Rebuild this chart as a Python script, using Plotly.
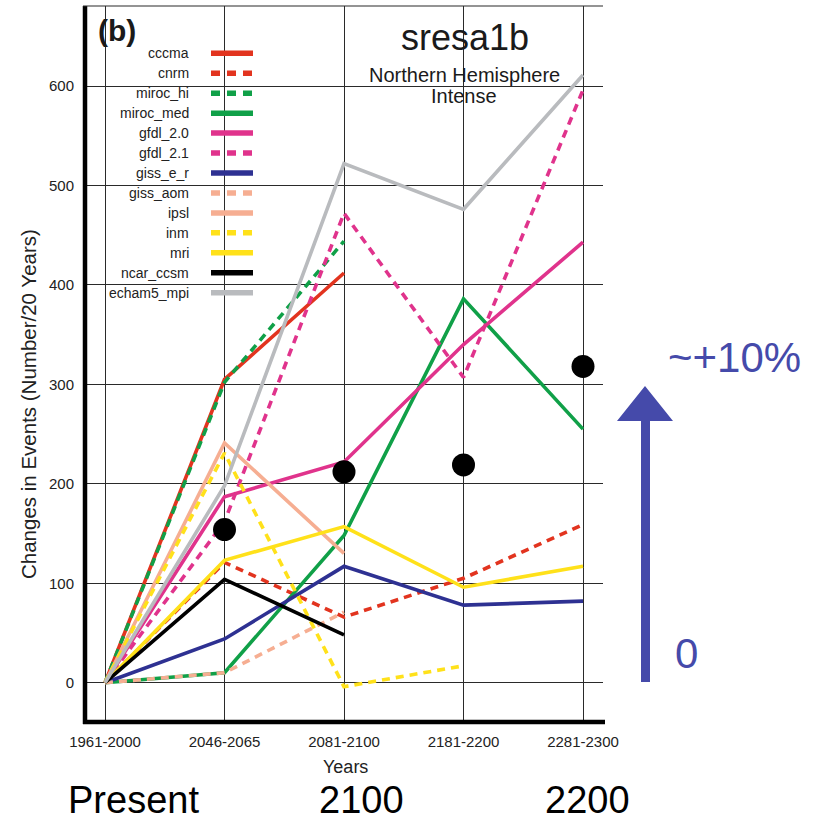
import plotly.graph_objects as go

# ---- data -------------------------------------------------------------
periods = ["1961-2000", "2046-2065", "2081-2100", "2181-2200", "2281-2300"]

cccma = [0, 305, 412]
cnrm = [0, 121, 66, 105, 159]
miroc_hi = [0, 302, 444]
miroc_med = [0, 10, 148, 386, 255]
gfdl_2_0 = [0, 187, 222, 340, 443]
gfdl_2_1 = [0, 162, 472, 307, 596]
giss_e_r = [0, 44, 117, 78, 82]
giss_aom = [0, 10, 71]
ipsl = [0, 241, 130]
inm = [0, 231, -4, 17]
mri = [0, 123, 157, 96, 117]
ncar_ccsm = [0, 104, 48]
echam5_mpi = [0, 198, 522, 476, 611]

ensemble_mean = [None, 154, 212, 219, 318]

model_names = ["cccma", "cnrm", "miroc_hi", "miroc_med", "gfdl_2.0", "gfdl_2.1",
               "giss_e_r", "giss_aom", "ipsl", "inm", "mri", "ncar_ccsm", "echam5_mpi"]
model_values = [cccma, cnrm, miroc_hi, miroc_med, gfdl_2_0, gfdl_2_1,
                giss_e_r, giss_aom, ipsl, inm, mri, ncar_ccsm, echam5_mpi]

# ---- styles -----------------------------------------------------------
RED = "#E2341F"
GREEN = "#10A048"
MAGENTA = "#E0338C"
NAVY = "#2E3192"
SALMON = "#F6AE92"
YELLOW = "#FFE11A"
GRAY = "#B9BBBE"
ARROW = "#454AAA"
TXT = "#222222"

model_styles = [
    (RED, "solid"), (RED, "dash"), (GREEN, "dash"), (GREEN, "solid"),
    (MAGENTA, "solid"), (MAGENTA, "dash"), (NAVY, "solid"), (SALMON, "dash"),
    (SALMON, "solid"), (YELLOW, "dash"), (YELLOW, "solid"), ("#000000", "solid"),
    (GRAY, "solid"),
]

W, H = 814, 823
L, R, T, B = 83, 211, 6, 101
PW, PH = W - L - R, H - T - B


def px_x(p):
    return (p - L) / PW


def px_y(p):
    return (H - B - p) / PH


fig = go.Figure()

for name, vals, (color, dash) in zip(model_names, model_values, model_styles):
    fig.add_trace(go.Scatter(
        x=list(range(len(vals))), y=vals, mode="lines", name=name,
        line=dict(color=color, width=3.6, dash="8px,6px" if dash == "dash" else "solid"),
        showlegend=False, hoverinfo="skip",
    ))

fig.add_trace(go.Scatter(
    x=list(range(len(ensemble_mean))), y=ensemble_mean, mode="markers",
    marker=dict(color="#000000", size=23), showlegend=False,
))

shapes = []
annotations = []

# hand-made legend: right-aligned labels with line samples to the right
for i, (name, (color, dash)) in enumerate(zip(model_names, model_styles)):
    yy = px_y(53.3 + 19.95 * i)
    annotations.append(dict(
        x=px_x(191), y=yy, xref="paper", yref="paper", text=name, showarrow=False,
        xanchor="right", yanchor="middle", font=dict(size=14, color=TXT),
    ))
    shapes.append(dict(
        type="line", xref="paper", yref="paper", x0=px_x(211), x1=px_x(253), y0=yy, y1=yy,
        line=dict(color=color, width=5.5, dash="9px,7px" if dash == "dash" else "solid"),
    ))

# frame: heavy left and bottom edges, thin top edge
shapes.append(dict(type="line", xref="paper", yref="paper", x0=px_x(85), x1=px_x(85),
                   y0=px_y(724), y1=px_y(6), line=dict(color="#000000", width=4.5)))
shapes.append(dict(type="line", xref="paper", yref="paper", x0=px_x(83), x1=px_x(605),
                   y0=px_y(722), y1=px_y(722), line=dict(color="#000000", width=4.5)))
shapes.append(dict(type="line", xref="paper", yref="paper", x0=px_x(83), x1=px_x(603),
                   y0=px_y(6), y1=px_y(6), line=dict(color="#2a2a2a", width=1.2)))

# arrow on the right
pts = [(641, 682), (641, 421), (617, 421), (645, 386), (673, 421), (650, 421), (650, 682)]
path = "M " + " L ".join(f"{px_x(a):.5f},{px_y(b):.5f}" for a, b in pts) + " Z"
shapes.append(dict(type="path", xref="paper", yref="paper", path=path,
                   fillcolor=ARROW, line=dict(width=0)))


def text(x, y, s, size, color=TXT, anchor="center", bold=False, angle=0):
    annotations.append(dict(
        x=px_x(x), y=px_y(y), xref="paper", yref="paper", text=f"<b>{s}</b>" if bold else s,
        showarrow=False, xanchor=anchor, yanchor="middle", textangle=angle,
        font=dict(size=size, color=color, family="Liberation Sans, Arial, sans-serif"),
    ))


text(96, 31, "(b)", 30, color="#1a1a1a", anchor="left", bold=True)
text(465, 38, "sresa1b", 36, color="#1a1a1a")
text(464, 75, "Northern Hemisphere", 20, color="#1a1a1a")
text(464, 96, "Intense", 20, color="#1a1a1a")
text(28, 404, "Changes in Events (Number/20 Years)", 20.5, angle=-90)
text(345, 767, "Years", 18)
text(133, 800, "Present", 38, color="#000000")
text(361, 800, "2100", 38, color="#000000")
text(587, 800, "2200", 38, color="#000000")
text(734, 357, "~+10%", 42, color=ARROW)
text(686, 653, "0", 42, color=ARROW)

fig.update_layout(
    width=W, height=H, margin=dict(l=L, r=R, t=T, b=B),
    paper_bgcolor="white", plot_bgcolor="white",
    font=dict(family="Liberation Sans, Arial, sans-serif", color=TXT),
    shapes=shapes, annotations=annotations,
    xaxis=dict(
        range=[(L - 105) / 119.5, (L + PW - 105) / 119.5],
        tickvals=list(range(len(periods))), ticktext=periods,
        showgrid=True, gridcolor="#2a2a2a", gridwidth=1.2, zeroline=False, showline=False,
        ticks="outside", ticklen=6, tickcolor="rgba(0,0,0,0)", tickfont=dict(size=15),
    ),
    yaxis=dict(
        range=[(682.7 - (H - B)) / 0.9945, (682.7 - T) / 0.9945],
        tickvals=[0, 100, 200, 300, 400, 500, 600],
        showgrid=True, gridcolor="#2a2a2a", gridwidth=1.2, zeroline=False, showline=False,
        ticks="outside", ticklen=5, tickcolor="rgba(0,0,0,0)", tickfont=dict(size=15),
    ),
)

fig.write_html("out.html")
